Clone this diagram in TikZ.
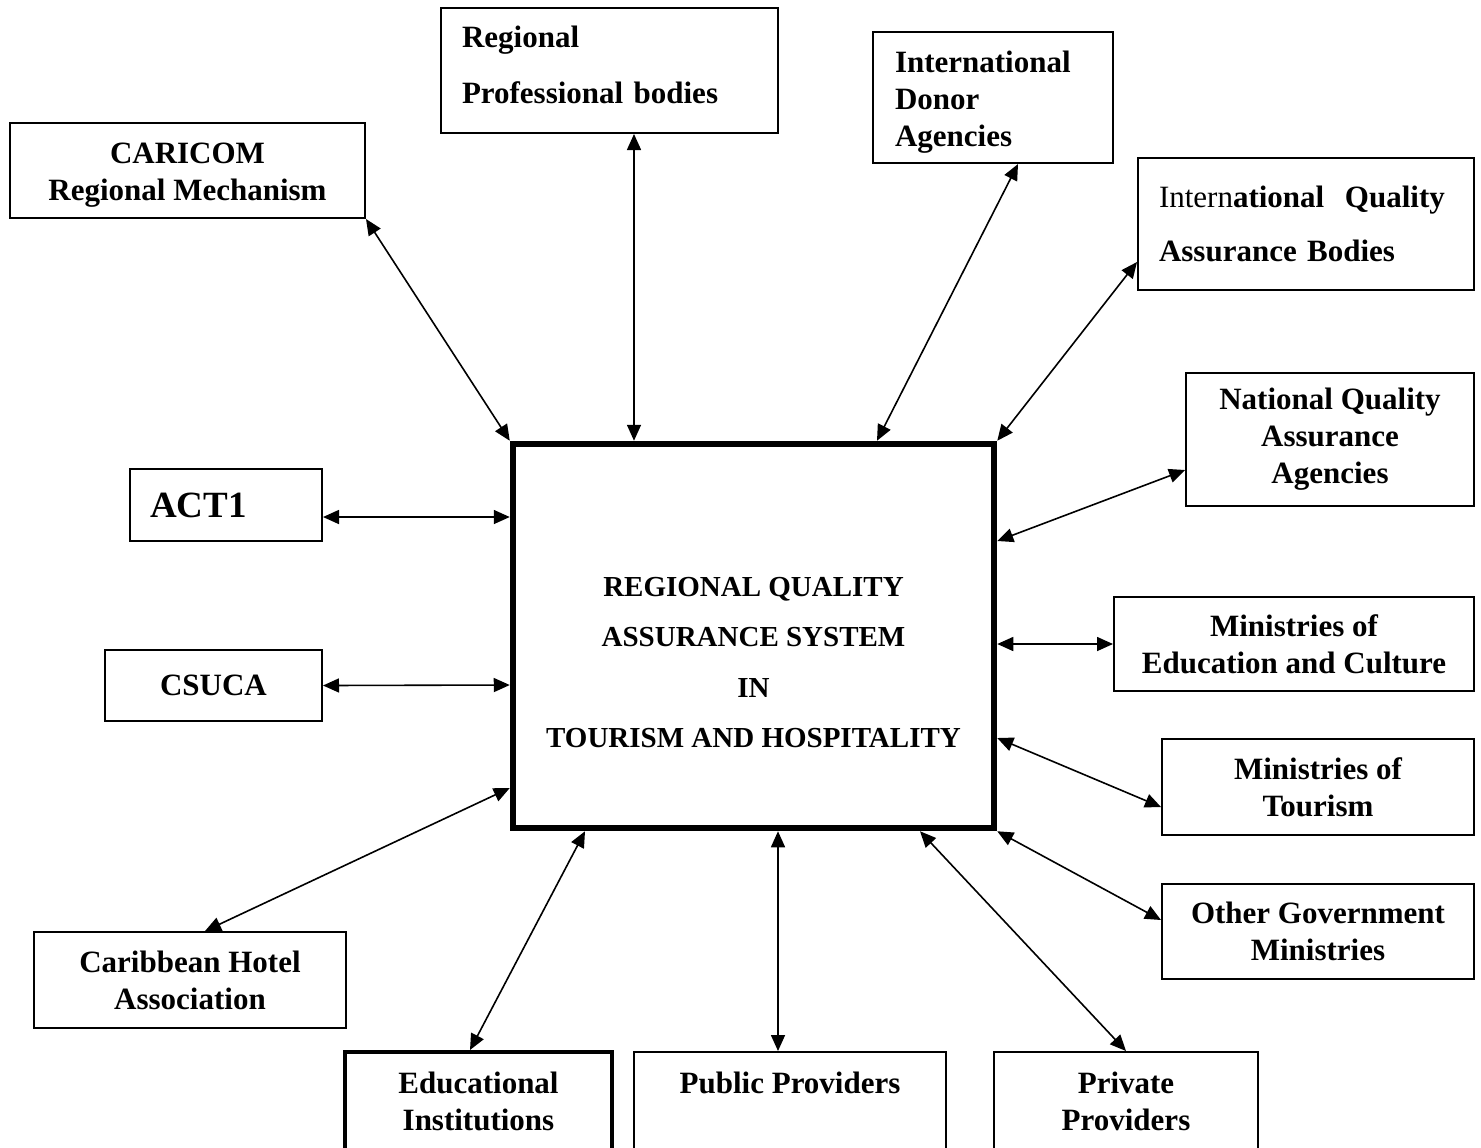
\documentclass[tikz,border=0pt]{standalone}
\usepackage{fontspec}
\setmainfont{Liberation Serif}
\usetikzlibrary{arrows.meta,calc,positioning}
\tikzset{
box/.style={
  draw,
  line width=1pt,
  inner sep=0pt,
  align=center,
  font=\bfseries\fontsize{15.5}{18.5}\selectfont
},
leftbox/.style={box, align=left, text width=#1},
hub/.style={box, line width=3.25pt, font=\bfseries\fontsize{14.5}{25.2}\selectfont},
link/.style={{Triangle[length=8pt,width=7pt]}-{Triangle[length=8pt,width=7pt]}, line width=0.8pt},
}
\newcommand{\lowerline}{\rule{0pt}{15pt}}
\newcommand{\raiseline}{\rule[-5.5pt]{0pt}{5.5pt}}

\begin{document}
\begin{tikzpicture}[x=0.5pt, y=-0.5pt]
            \useasboundingbox (0,0) rectangle (1481,1147);
            \clip (0,0) rectangle (1481,1147);
                \node[hub, minimum width=240.5pt, minimum height=192pt] (rqas) at (753.5,636)
                    {\mbox{}\\[11pt]REGIONAL QUALITY\\ASSURANCE SYSTEM\\IN\\TOURISM AND HOSPITALITY};
                \node[box, minimum width=177.5pt, minimum height=47.5pt] (caricom) at (187.5,170.5) {\lowerline CARICOM\\Regional Mechanism};
                \node[leftbox=147.5pt, minimum width=168.5pt, minimum height=62.5pt] (prof) at (609.5,70.5) {Regional\\[9.5pt]Professional bodies\raiseline};
                \node[leftbox=98pt, minimum width=120pt, minimum height=65.5pt] (donor) at (993,97.5) {\lowerline International\\Donor\\Agencies};
                \node[leftbox=147pt, minimum width=168pt, minimum height=66pt] (iqa) at (1306,224)
                    {\mbox{{\mdseries Intern}ational\ \ Quality}\\[8.5pt]Assurance Bodies};
                \node[box, minimum width=144pt, minimum height=66.5pt] (nqa) at (1330,439.5) {National Quality\\Assurance\\Agencies};
                \node[box, minimum width=180pt, minimum height=47pt] (minedu) at (1294,644) {Ministries of\\Education and Culture};
                \node[box, minimum width=156pt, minimum height=48pt] (mintour) at (1318,787) {Ministries of\\Tourism};
                \node[box, minimum width=156pt, minimum height=47.5pt] (othergov) at (1318,931.5) {Other Government\\Ministries};
                \node[box, minimum width=132pt, minimum height=49pt] (private) at (1126,1101) {Private\\Providers};
                \node[box, minimum width=156pt, minimum height=49pt] (public) at (790,1101) {Public Providers\\\mbox{}};
                \node[box, line width=2pt, minimum width=133.5pt, minimum height=49pt] (edu) at (478.5,1101) {Educational\\Institutions};
                \node[box, minimum width=156pt, minimum height=48pt] (cha) at (190,980) {Caribbean Hotel\\Association};
                \node[box, minimum width=108.5pt, minimum height=35.5pt] (csuca) at (213.5,685.5) {CSUCA};
                \node[leftbox=76pt, minimum width=96pt, minimum height=36pt, font=\bfseries\fontsize{18.5}{22}\selectfont] (act) at (226,505) {ACT1};

                \draw[link] (caricom.south east) -- (rqas.north west);
                \draw[link] ($(prof.south)+(24.5,0)$) -- ($(rqas.north)+(-119.5,0)$);
                \draw[link] ($(donor.south)+(25,0)$) -- ($(rqas.north)+(123.5,0)$);
                \draw[link] ($(iqa.west)+(0,38)$) -- (rqas.north east);
                \draw[link] ($(nqa.west)+(0,30.5)$) -- ($(rqas.east)+(0,-95)$);
                \draw[link] (minedu.west) -- ($(rqas.east)+(0,8)$);
                \draw[link] ($(mintour.west)+(0,20)$) -- ($(rqas.east)+(0,102)$);
                \draw[link] ($(othergov.west)+(0,-11.5)$) -- (rqas.south east);
                \draw[link] (private.north) -- ($(rqas.south)+(166.5,0)$);
                \draw[link] ($(public.north)+(-12,0)$) -- ($(rqas.south)+(24.5,0)$);
                \draw[link] ($(edu.north)+(-8.5,0)$) -- ($(rqas.south)+(-168.5,0)$);
                \draw[link] ($(cha.north)+(15,0)$) -- ($(rqas.west)+(0,152)$);
                \draw[link] (csuca.east) -- ($(rqas.west)+(0,49)$);
                \draw[link] ($(act.east)+(0,12)$) -- ($(rqas.west)+(0,-119)$);
            \end{tikzpicture}
\end{document}
